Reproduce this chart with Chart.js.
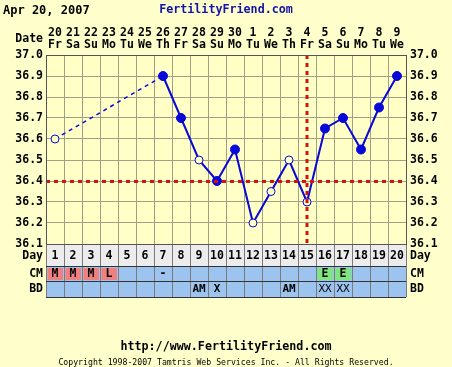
<!DOCTYPE html>
<html><head><meta charset="utf-8">
<script src="https://cdn.jsdelivr.net/npm/chart.js@4"></script>
<style>
html,body{margin:0;padding:0;background:#FFFFCC;width:452px;height:367px;overflow:hidden;}
#wrap{position:relative;width:452px;height:367px;}
canvas{position:absolute;left:0;top:0;}
.t{position:absolute;font-family:"DejaVu Sans Mono",monospace;font-weight:bold;white-space:nowrap;line-height:1;}
</style></head><body>
<div id="wrap">
<canvas id="c" width="452" height="367"></canvas>
<div class="t" style="left:3px;top:4px;font-size:12px;color:#000">Apr 20, 2007</div>
<div class="t" style="left:0;width:452px;text-align:center;top:4px;font-size:11.7px;color:#1212A8">FertilityFriend.com</div>
<div class="t" style="left:0;width:452px;text-align:center;top:341px;font-size:11.7px;color:#000">http://www.FertilityFriend.com</div>
<div class="t" style="left:0;width:452px;text-align:center;top:358px;font-size:8.2px;font-weight:normal;color:#000">Copyright 1998-2007 Tamtris Web Services Inc. - All Rights Reserved.</div>
</div>
<script>
const cycleDays = ["1","2","3","4","5","6","7","8","9","10","11","12","13","14","15","16","17","18","19","20"];
const dates = ["20","21","22","23","24","25","26","27","28","29","30","1","2","3","4","5","6","7","8","9"];
const weekdays = ["Fr","Sa","Su","Mo","Tu","We","Th","Fr","Sa","Su","Mo","Tu","We","Th","Fr","Sa","Su","Mo","Tu","We"];
const temps = [36.6,null,null,null,null,null,36.9,36.7,36.5,36.4,36.55,36.2,36.35,36.5,36.3,36.65,36.7,36.55,36.75,36.9];
const filled = [false,false,false,false,false,false,true,true,false,true,true,false,false,false,false,true,true,true,true,true];
const cm = ["M","M","M","L","","","-","","","","","","","","","E","E","","",""];
const bd = ["","","","","","","","","AM","X","","","","AM","","XX","XX","","",""];
const tempTicks = {min:36.1, max:37.0, step:0.1};
const coverline = 36.4;
const ovulationDay = "15";

const FONT = '"DejaVu Sans Mono", monospace';
const BLUE = '#0808D8';
const PLOTBG = '#FFFFC6';
const GRID = '#A0A088';
const RED = '#D81010';
const cmColors = {M:'#F08080', L:'#F08080', E:'#7FE57F'};

const rowsPlugin = {
  id:'rows',
  beforeDraw(chart){
    const {ctx, chartArea:a} = chart;
    ctx.save();
    ctx.fillStyle = PLOTBG;
    ctx.fillRect(a.left, a.top, a.right-a.left, a.bottom-a.top);
    ctx.restore();
  },
  afterDatasetsDraw(chart){
    const {ctx, chartArea:a, scales} = chart;
    ctx.save();
    ctx.strokeStyle = RED; ctx.lineWidth = 3; ctx.setLineDash([4,4]);
    const yc = Math.round(scales.y.getPixelForValue(coverline)) + 0.5;
    ctx.beginPath(); ctx.moveTo(a.left, yc); ctx.lineTo(a.right, yc); ctx.stroke();
    const xo = Math.round(scales.x.getPixelForValue(cycleDays.indexOf(ovulationDay)));
    ctx.beginPath(); ctx.moveTo(xo, a.top); ctx.lineTo(xo, a.bottom); ctx.stroke();
    ctx.restore();
  },
  afterDraw(chart){
    const {ctx, chartArea:a, scales} = chart;
    const x = scales.x;
    const colW = (a.right - a.left) / cycleDays.length;
    const dayTop = a.bottom, dayBot = a.bottom + 22, cmBot = dayBot + 15, bdBot = cmBot + 16;
    ctx.save();
    ctx.fillStyle = '#ECECEC'; ctx.fillRect(a.left, dayTop, a.right-a.left, dayBot-dayTop);
    ctx.fillStyle = '#9CC4EE'; ctx.fillRect(a.left, dayBot, a.right-a.left, bdBot-dayBot);
    cycleDays.forEach((d,i)=>{
      const c = cmColors[cm[i]];
      if(c){
        const l = a.left + i*colW;
        ctx.fillStyle = c; ctx.fillRect(l+1.5, dayBot+2, colW-2.5, cmBot-dayBot-3);
      }
    });
    ctx.strokeStyle = '#7A7A7A'; ctx.lineWidth = 1;
    for(let i=0;i<=cycleDays.length;i++){
      const xx = Math.round(a.left + i*colW) + 0.5;
      ctx.beginPath(); ctx.moveTo(xx, dayTop); ctx.lineTo(xx, bdBot); ctx.stroke();
    }
    ctx.strokeStyle = '#333';
    [dayTop, dayBot, cmBot, bdBot].forEach(yy=>{
      ctx.beginPath(); ctx.moveTo(a.left, yy+0.5); ctx.lineTo(a.right, yy+0.5); ctx.stroke();
    });
    ctx.strokeStyle = '#555';
    ctx.strokeRect(Math.round(a.left)+0.5, Math.round(a.top)+0.5, Math.round(a.right-a.left), Math.round(a.bottom-a.top));
    ctx.fillStyle = '#000';
    ctx.textBaseline = 'middle';
    ctx.font = 'bold 11.5px ' + FONT;
    ctx.textAlign = 'center';
    cycleDays.forEach((d,i)=>{
      const cx = x.getPixelForValue(i);
      ctx.fillText(d, cx, (dayTop+dayBot)/2 + 1);
      ctx.fillText(dates[i], cx, 33);
      ctx.fillText(weekdays[i], cx, 45);
      if(cm[i]) ctx.fillText(cm[i], cx, (dayBot+cmBot)/2 + 0.5);
      if(bd[i]){
        ctx.font = (bd[i]==='XX' ? '' : 'bold ') + '11px ' + FONT;
        ctx.fillText(bd[i], cx, (cmBot+bdBot)/2 + 0.5);
        ctx.font = 'bold 11.5px ' + FONT;
      }
    });
    ctx.textAlign = 'right';
    ctx.fillText('Date', 43, 39);
    ctx.fillText('Day', 43, (dayTop+dayBot)/2 + 1);
    ctx.fillText('CM', 43, (dayBot+cmBot)/2 + 0.5);
    ctx.fillText('BD', 43, (cmBot+bdBot)/2 + 0.5);
    ctx.textAlign = 'left';
    ctx.fillText('Day', 410, (dayTop+dayBot)/2 + 1);
    ctx.fillText('CM', 410, (dayBot+cmBot)/2 + 0.5);
    ctx.fillText('BD', 410, (cmBot+bdBot)/2 + 0.5);
    ctx.restore();
  }
};

const yTickOpts = {
  stepSize: tempTicks.step,
  color:'#000',
  font:{family:FONT, size:11.5, weight:'bold'},
  padding:3,
  callback:v=>Number(v).toFixed(1)
};

const isGap = s => temps[s.p0DataIndex] === null;

new Chart(document.getElementById('c'), {
  type:'line',
  data:{
    labels: cycleDays,
    datasets:[{
      data: temps,
      spanGaps: true,
      borderColor: BLUE,
      borderWidth: 2,
      tension: 0,
      segment:{
        borderDash: s => isGap(s) ? [4,4] : [],
        borderWidth: s => isGap(s) ? 1.5 : 2
      },
      pointRadius: c => filled[c.dataIndex] ? 4.5 : 4,
      pointBorderWidth: 1,
      pointBorderColor: BLUE,
      pointBackgroundColor: c => filled[c.dataIndex] ? BLUE : PLOTBG
    }]
  },
  options:{
    responsive:false,
    devicePixelRatio:1,
    animation:false,
    layout:{padding:{top:55, bottom:101, left:0, right:0}},
    plugins:{legend:{display:false}, tooltip:{enabled:false}},
    scales:{
      x:{
        type:'category',
        offset:true,
        grid:{offset:true, color:GRID, drawTicks:false},
        border:{display:false},
        ticks:{display:false},
        afterFit: s => { s.height = 22; }
      },
      y:{
        position:'left',
        min:tempTicks.min, max:tempTicks.max,
        grid:{color:GRID, drawTicks:false},
        border:{display:false},
        ticks:yTickOpts,
        afterFit: s => { s.width = 46; }
      },
      y2:{
        position:'right',
        min:tempTicks.min, max:tempTicks.max,
        grid:{drawOnChartArea:false, drawTicks:false},
        border:{display:false},
        ticks:Object.assign({}, yTickOpts, {padding:4}),
        afterFit: s => { s.width = 46; }
      }
    }
  },
  plugins:[rowsPlugin]
});
</script>
</body></html>
